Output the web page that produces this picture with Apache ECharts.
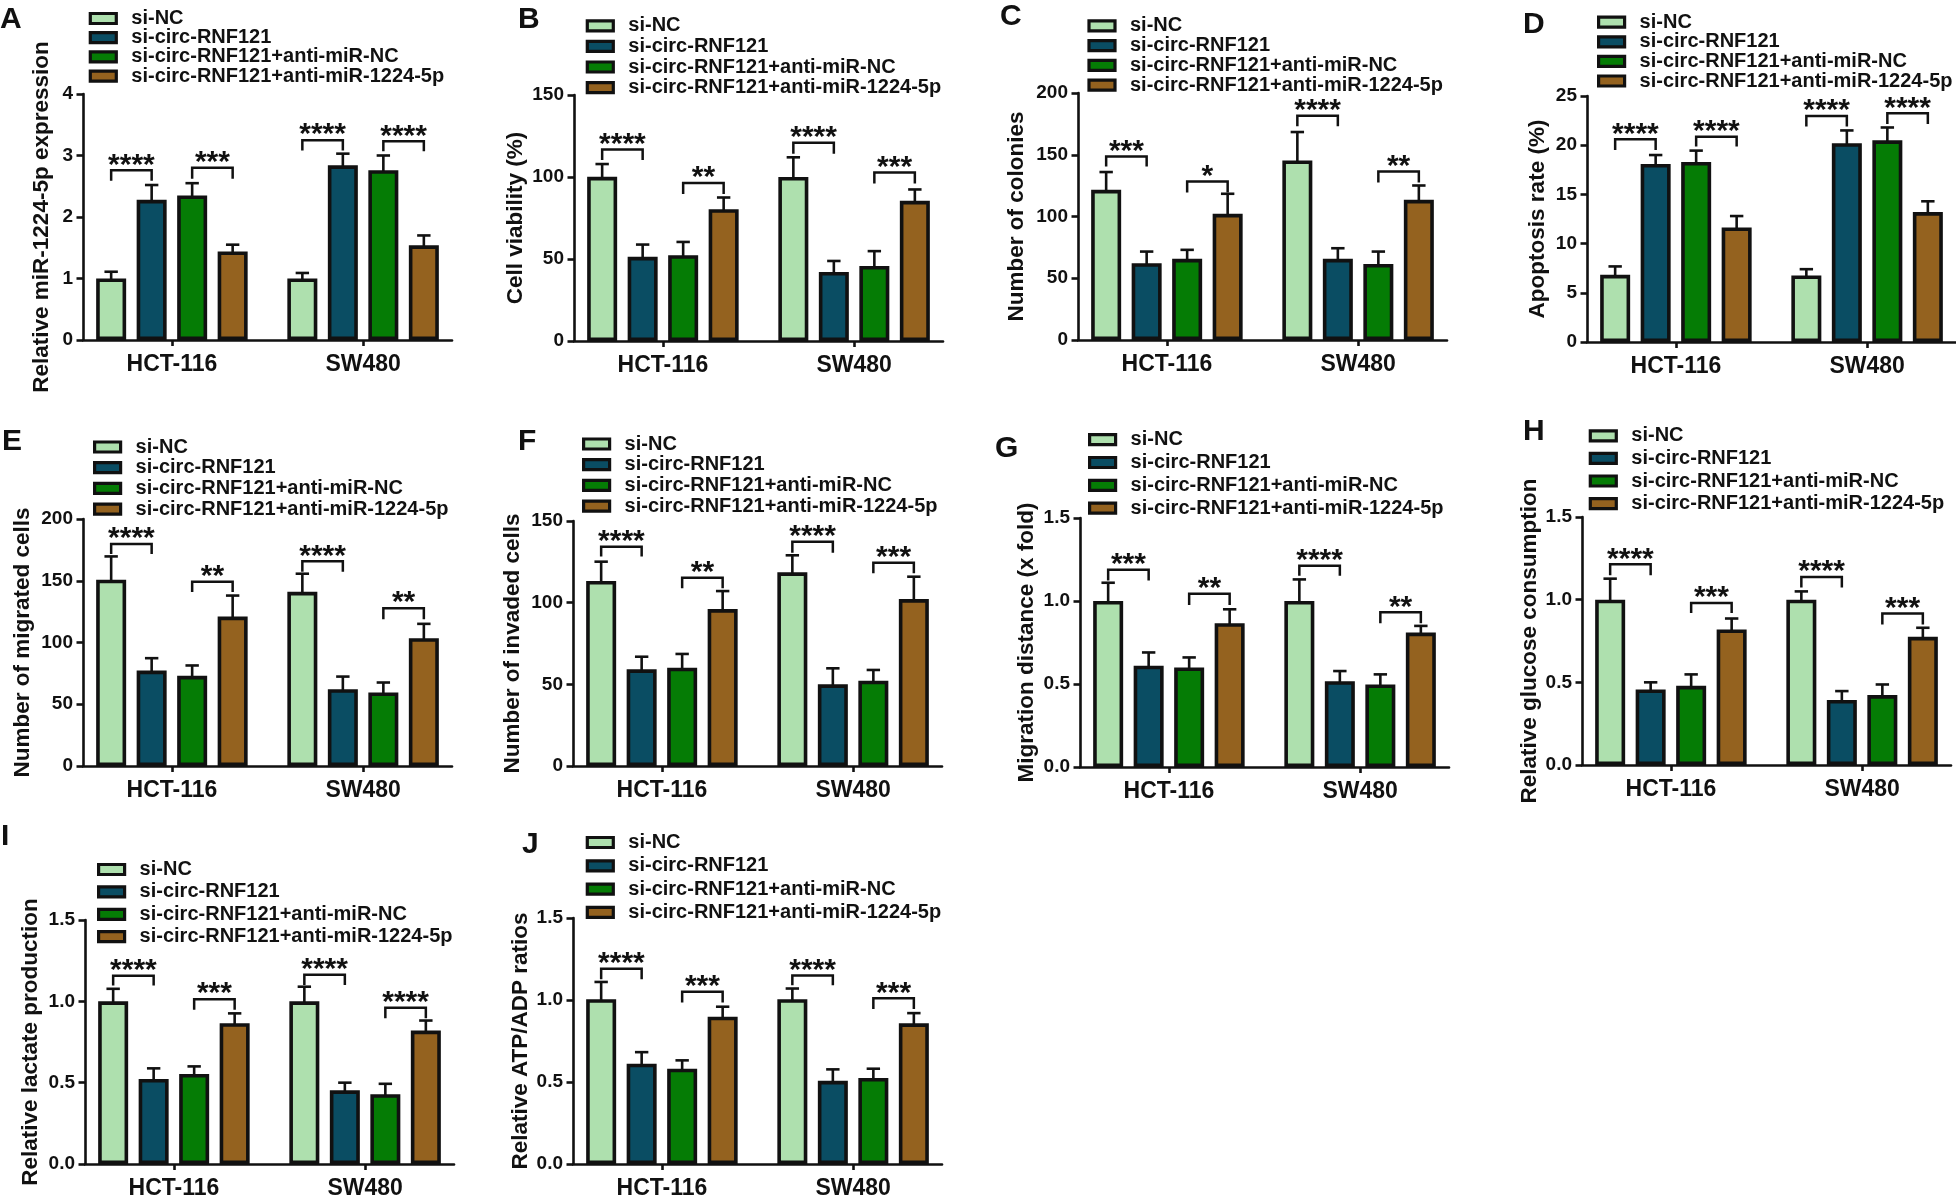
<!DOCTYPE html>
<html><head><meta charset="utf-8">
<script src="https://cdn.jsdelivr.net/npm/echarts@6/dist/echarts.min.js"></script>
<style>html,body{margin:0;padding:0;background:#fff}#c{width:1956px;height:1200px}</style>
</head><body><div id="c"></div>
<script>
// ---------------- DATA ----------------
const categories = ['HCT-116', 'SW480'];
const groups = ['si-NC', 'si-circ-RNF121', 'si-circ-RNF121+anti-miR-NC', 'si-circ-RNF121+anti-miR-1224-5p'];
const panelLetters = ['A', 'B', 'C', 'D', 'E', 'F', 'G', 'H', 'I', 'J'];
const yTitles = ['Relative miR-1224-5p expression', 'Cell viability (%)', 'Number of colonies', 'Apoptosis rate (%)',
  'Number of migrated cells', 'Number of invaded cells', 'Migration distance (x fold)', 'Relative glucose consumption',
  'Relative lactate production', 'Relative ATP/ADP ratios'];
const yMax = [4, 150, 200, 25, 200, 150, 1.5, 1.5, 1.5, 1.5];
const yStep = [1, 50, 50, 5, 50, 50, 0.5, 0.5, 0.5, 0.5];
const yDecimals = [0, 0, 0, 0, 0, 0, 1, 1, 1, 1];

// mean per group: [HCT-116, SW480]; err = top of error bar
const meanA = [[1.00, 1.00], [2.28, 2.84], [2.35, 2.76], [1.44, 1.54]];
const errA  = [[1.11, 1.09], [2.52, 3.03], [2.55, 3.00], [1.55, 1.70]];
const meanB = [[100.1, 100.0], [51.3, 42.1], [52.3, 45.8], [80.4, 85.5]];
const errB  = [[107.9, 112.0], [58.8, 48.8], [60.4, 54.8], [87.5, 92.4]];
const meanC = [[121.6, 145.4], [62.2, 65.7], [65.7, 61.6], [102.2, 113.5]];
const errC  = [[136.0, 168.4], [71.6, 74.3], [73.0, 71.6], [118.4, 125.1]];
const meanD = [[6.83, 6.77], [18.1, 20.2], [18.3, 20.5], [11.64, 13.2]];
const errD  = [[7.68, 7.40], [19.0, 21.5], [19.45, 21.8], [12.8, 14.3]];
const meanE = [[150.8, 141.0], [77.3, 62.2], [73.0, 59.5], [121.0, 103.5]];
const errE  = [[169.7, 155.7], [87.3, 72.4], [81.4, 67.6], [138.0, 115.1]];
const meanF = [[113.3, 118.6], [59.2, 50.0], [60.2, 52.2], [96.1, 102.2]];
const errF  = [[125.1, 129.0], [66.9, 59.8], [68.6, 58.8], [107.1, 115.9]];
const meanG = [[1.00, 1.00], [0.61, 0.517], [0.60, 0.497], [0.866, 0.81]];
const errG  = [[1.11, 1.13], [0.69, 0.578], [0.66, 0.558], [0.95, 0.85]];
const meanH = [[1.00, 1.00], [0.457, 0.393], [0.479, 0.423], [0.82, 0.775]];
const errH  = [[1.127, 1.05], [0.50, 0.447], [0.548, 0.487], [0.886, 0.83]];
const meanI = [[1.00, 1.00], [0.523, 0.453], [0.554, 0.429], [0.866, 0.82]];
const errI  = [[1.077, 1.09], [0.588, 0.50], [0.60, 0.493], [0.926, 0.882]];
const meanJ = [[1.005, 1.005], [0.612, 0.507], [0.581, 0.525], [0.898, 0.858]];
const errJ  = [[1.11, 1.07], [0.682, 0.577], [0.632, 0.581], [0.959, 0.92]];

// significance brackets: [category, groupFrom, groupTo, bracketTop, legBottom, label]
const sigA = [[0, 0, 1, 2.76, 2.59, '****'], [0, 2, 3, 2.80, 2.62, '***'], [1, 0, 1, 3.25, 3.08, '****'], [1, 2, 3, 3.23, 3.07, '****']];
const sigB = [[0, 0, 1, 116.8, 110.3, '****'], [0, 2, 3, 96.3, 89.6, '**'], [1, 0, 1, 120.9, 114.2, '****'], [1, 2, 3, 102.8, 96.0, '***']];
const sigC = [[0, 0, 1, 148.6, 140.5, '***'], [0, 2, 3, 128.4, 119.5, '*'], [1, 0, 1, 181.6, 173.0, '****'], [1, 2, 3, 136.5, 127.6, '**']];
const sigD = [[0, 0, 1, 20.6, 19.5, '****'], [0, 2, 3, 20.87, 19.86, '****'], [1, 0, 1, 22.97, 21.9, '****'], [1, 2, 3, 23.24, 22.16, '****']];
const sigE = [[0, 0, 1, 179.7, 171.6, '****'], [0, 2, 3, 149.2, 140.8, '**'], [1, 0, 1, 165.7, 157.3, '****'], [1, 2, 3, 127.8, 118.9, '**']];
const sigF = [[0, 0, 1, 134.3, 128.2, '****'], [0, 2, 3, 115.3, 108.8, '**'], [1, 0, 1, 137.3, 130.6, '****'], [1, 2, 3, 124.5, 118.0, '***']];
const sigG = [[0, 0, 1, 1.188, 1.123, '***'], [0, 2, 3, 1.043, 0.976, '**'], [1, 0, 1, 1.212, 1.152, '****'], [1, 2, 3, 0.932, 0.866, '**']];
const sigH = [[0, 0, 1, 1.214, 1.148, '****'], [0, 2, 3, 0.98, 0.92, '***'], [1, 0, 1, 1.137, 1.073, '****'], [1, 2, 3, 0.916, 0.85, '***']];
const sigI = [[0, 0, 1, 1.158, 1.097, '****'], [0, 2, 3, 1.013, 0.948, '***'], [1, 0, 1, 1.164, 1.101, '****'], [1, 2, 3, 0.96, 0.896, '****']];
const sigJ = [[0, 0, 1, 1.19, 1.127, '****'], [0, 2, 3, 1.05, 0.985, '***'], [1, 0, 1, 1.15, 1.09, '****'], [1, 2, 3, 1.01, 0.945, '***']];

const means = [meanA, meanB, meanC, meanD, meanE, meanF, meanG, meanH, meanI, meanJ];
const errs = [errA, errB, errC, errD, errE, errF, errG, errH, errI, errJ];
const sigs = [sigA, sigB, sigC, sigD, sigE, sigF, sigG, sigH, sigI, sigJ];

// ---------------- LAYOUT / STYLE ----------------
const GRID = [[83, 94, 246], [574, 95, 246], [1078, 93, 247], [1587, 96, 246], [83, 519, 247],
  [573, 521, 245], [1080, 518, 249], [1582, 517, 248], [85, 920, 248], [573, 918, 248]];
const GRID_W = 369;
const NAMEGAP = [30, 47, 50, 38, 49, 49, 42, 41, 43, 41];
// legend: left, first-row centre, row pitch
const LEG = [[88.7, 18.5, 19.2], [585.7, 25.8, 20.6], [1087.4, 25.8, 19.8], [1597, 22.2, 19.6], [93, 447, 20.7],
  [582, 444, 20.7], [1088, 439.7, 22.8], [1588.7, 435.8, 22.6], [97, 869.5, 22.4], [585.7, 842.5, 23.3]];
const LETTER = [[0, 5], [518, 5], [1000, 2], [1523, 10], [2, 427], [518, 427], [995, 434], [1523, 417], [1, 822], [522, 830]];
const COLORS = ['#aee0ae', '#0a4d63', '#057c05', '#94621f'];
const INK = '#111';
const FONT = '"Liberation Sans", Arial, sans-serif';
const BAR_W = 30, BAR_GAP = 0.35, PITCH = BAR_W * (1 + BAR_GAP);
const CAP = 6.7;
const LEG_ROW = 20;

const option = { animation: false, backgroundColor: '#fff', grid: [], xAxis: [], yAxis: [], legend: [], series: [], graphic: [] };

for (let p = 0; p < 10; p++) {
  const [gl, gt, gh] = GRID[p];
  option.grid.push({ left: gl, top: gt, width: GRID_W, height: gh });
  option.xAxis.push({
    type: 'value', gridIndex: p, min: 0.535, max: 2.465,
    axisLine: { show: true, onZero: false, lineStyle: { color: INK, width: 2.6 } },
    axisTick: { show: true, customValues: [1, 2], length: 6, lineStyle: { color: INK, width: 2.6 } },
    axisLabel: { show: true, customValues: [1, 2], formatter: v => categories[Math.round(v) - 1] || '',
      fontFamily: FONT, fontWeight: 'bold', fontSize: 23, color: INK, margin: 13 },
    splitLine: { show: false }
  });
  option.yAxis.push({
    type: 'value', gridIndex: p, min: 0, max: yMax[p], interval: yStep[p],
    name: yTitles[p], nameLocation: 'middle', nameGap: NAMEGAP[p],
    nameTextStyle: { fontFamily: FONT, fontWeight: 'bold', fontSize: 22.5, color: INK },
    axisLine: { show: true, onZero: false, lineStyle: { color: INK, width: 2.6 } },
    axisTick: { show: true, length: 6.5, lineStyle: { color: INK, width: 2.6 } },
    axisLabel: { formatter: v => v.toFixed(yDecimals[p]), fontFamily: FONT, fontWeight: 'bold', fontSize: 19, color: INK, margin: 10 },
    splitLine: { show: false }
  });
  const [ll, lc, lp] = LEG[p];
  option.legend.push({
    data: groups, orient: 'vertical', left: ll, top: lc - LEG_ROW / 2, itemWidth: 26, itemHeight: 10, itemGap: lp - LEG_ROW,
    icon: 'rect', padding: 0, selectedMode: false,
    itemStyle: { borderWidth: 3.2, borderColor: INK },
    textStyle: { fontFamily: FONT, fontWeight: 'bold', fontSize: 20, color: INK, padding: [0, 0, 0, 10] }
  });
  for (let g = 0; g < 4; g++) {
    option.series.push({
      type: 'bar', name: groups[g], xAxisIndex: p, yAxisIndex: p,
      data: categories.map((c, ci) => [ci + 1, means[p][g][ci]]),
      barWidth: BAR_W, barGap: (BAR_GAP * 100) + '%',
      itemStyle: { color: COLORS[g], borderColor: INK, borderWidth: 3.6 },
      silent: true
    });
  }
  const errData = [];
  for (let g = 0; g < 4; g++) for (let ci = 0; ci < 2; ci++) errData.push([ci + 1, means[p][g][ci], errs[p][g][ci], g]);
  option.series.push({
    type: 'custom', xAxisIndex: p, yAxisIndex: p, silent: true, z: 5,
    data: errData, encode: { x: 0, y: [1, 2] },
    renderItem: (params, api) => {
      const g = api.value(3);
      const b = api.coord([api.value(0), api.value(1)]);
      const t = api.coord([api.value(0), api.value(2)]);
      const x = b[0] + (g - 1.5) * PITCH;
      const st = { stroke: INK, lineWidth: 2.6 };
      return { type: 'group', children: [
        { type: 'line', shape: { x1: x, y1: b[1] + 1, x2: x, y2: t[1] }, style: st },
        { type: 'line', shape: { x1: x - CAP, y1: t[1], x2: x + CAP, y2: t[1] }, style: st }
      ] };
    }
  });
  const sigData = sigs[p].map(s => [s[0] + 1, s[3], s[4]]);
  option.series.push({
    type: 'custom', xAxisIndex: p, yAxisIndex: p, silent: true, z: 6,
    data: sigData, encode: { x: 0, y: [1, 2] },
    renderItem: (params, api) => {
      const s = sigs[p][params.dataIndex];
      const top = api.coord([api.value(0), api.value(1)]);
      const leg = api.coord([api.value(0), api.value(2)]);
      const x1 = top[0] + (s[1] - 1.5) * PITCH;
      const x2 = top[0] + (s[2] - 1.5) * PITCH;
      return { type: 'group', children: [
        { type: 'polyline', shape: { points: [[x1, leg[1]], [x1, top[1]], [x2, top[1]], [x2, leg[1]]] },
          style: { stroke: INK, lineWidth: 2.5, fill: null } },
        { type: 'text', style: { text: s[5], x: (x1 + x2) / 2, y: top[1] - 5, align: 'center', verticalAlign: 'middle',
          font: 'bold 30px ' + FONT, fill: INK } }
      ] };
    }
  });
  option.graphic.push({ type: 'text', left: LETTER[p][0], top: LETTER[p][1], silent: true,
    style: { text: panelLetters[p], font: 'bold 30px ' + FONT, fill: INK } });
}

const chart = echarts.init(document.getElementById('c'), null, { renderer: 'canvas' });
chart.setOption(option);
</script></body></html>
